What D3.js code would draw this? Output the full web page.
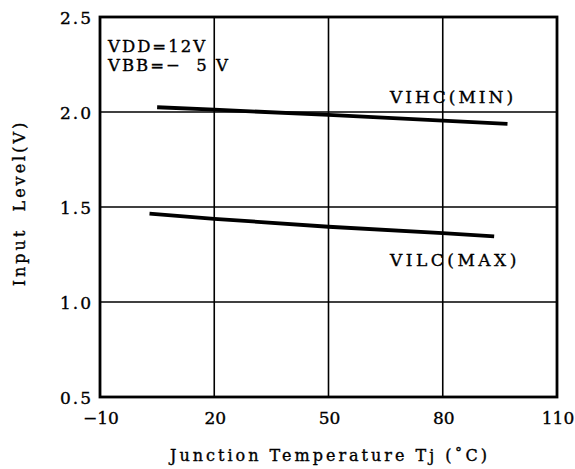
<!DOCTYPE html>
<html>
<head>
    <script src="https://d3js.org/d3.v7.min.js"></script>
    <style>
        body { margin: 0; background: #fff; }
        text { font-family: 'DejaVu Serif', serif; fill: #000; stroke: #000; stroke-width: 0.35px; }
    </style>
</head>
<body>
    <svg id="chart" width="575" height="469"></svg>
    <script>
        // values
        var xTicks = [-10, 20, 50, 80, 110];
        var yTicks = [0.5, 1.0, 1.5, 2.0, 2.5];
        var vihcTemp = [5, 20, 50, 80, 97];
        var vihcLevel = [2.025, 2.012, 1.985, 1.955, 1.937];
        var vilcTemp = [3, 20, 50, 80, 93.5];
        var vilcLevel = [1.465, 1.438, 1.396, 1.363, 1.345];

        var svg = d3.select("#chart");
        var x = d3.scaleLinear().domain([-10, 110]).range([100, 557]);
        var y = d3.scaleLinear().domain([0.5, 2.5]).range([397, 17]);

        // grid
        svg.append("g").selectAll("line")
            .data(xTicks.slice(1, -1))
            .enter().append("line")
            .attr("x1", d => x(d)).attr("x2", d => x(d))
            .attr("y1", y(2.5)).attr("y2", y(0.5))
            .attr("stroke", "#000").attr("stroke-width", 1.6);

        svg.append("g").selectAll("line")
            .data(yTicks.slice(1, -1))
            .enter().append("line")
            .attr("x1", x(-10)).attr("x2", x(110))
            .attr("y1", d => y(d)).attr("y2", d => y(d))
            .attr("stroke", "#000").attr("stroke-width", 1.6);

        // frame
        svg.append("rect")
            .attr("x", x(-10)).attr("y", y(2.5))
            .attr("width", x(110) - x(-10)).attr("height", y(0.5) - y(2.5))
            .attr("fill", "none").attr("stroke", "#000").attr("stroke-width", 2.8);

        // tick labels
        svg.append("g").selectAll("text")
            .data(xTicks)
            .enter().append("text")
            .attr("x", d => x(d) + 1)
            .attr("y", 424)
            .attr("text-anchor", "middle")
            .style("font-size", "17px")
            .text(d => d < 0 ? "\u2212" + Math.abs(d) : d);

        svg.append("g").selectAll("text")
            .data(yTicks)
            .enter().append("text")
            .attr("x", 93)
            .attr("y", d => y(d) + 7)
            .attr("text-anchor", "end")
            .style("font-size", "17px")
            .style("letter-spacing", "2px")
            .text(d => d.toFixed(1));

        // curves
        var line = d3.line().x(d => x(d[0])).y(d => y(d[1]));
        svg.append("path")
            .datum(d3.zip(vihcTemp, vihcLevel))
            .attr("d", line)
            .attr("fill", "none").attr("stroke", "#000").attr("stroke-width", 3.8);
        svg.append("path")
            .datum(d3.zip(vilcTemp, vilcLevel))
            .attr("d", line)
            .attr("fill", "none").attr("stroke", "#000").attr("stroke-width", 3.8);

        // annotations
        svg.append("text").attr("x", 390).attr("y", 103)
            .style("font-size", "17px").style("letter-spacing", "3px")
            .text("VIHC(MIN)");
        svg.append("text").attr("x", 390).attr("y", 266)
            .style("font-size", "17px").style("letter-spacing", "3.5px")
            .text("VILC(MAX)");
        svg.append("text").attr("x", 108).attr("y", 52)
            .style("font-size", "16.5px").style("letter-spacing", "2px")
            .text("VDD=12V");
        svg.append("text").attr("x", 108).attr("y", 71)
            .style("font-size", "16.5px").style("letter-spacing", "2px")
            .style("white-space", "pre")
            .text("VBB=\u2212  5 V");

        // axis titles
        svg.append("text")
            .attr("x", 330).attr("y", 461)
            .attr("text-anchor", "middle")
            .style("font-size", "16px").style("letter-spacing", "3px")
            .text("Junction Temperature Tj (\u02daC)");
        svg.append("text")
            .attr("transform", "translate(25,203) rotate(-90)")
            .attr("text-anchor", "middle")
            .style("font-size", "16px").style("letter-spacing", "3px")
            .style("white-space", "pre")
            .text("Input  Level(V)");
    </script>
</body>
</html>
